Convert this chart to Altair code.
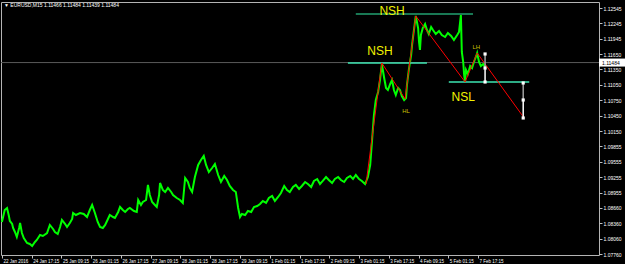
import altair as alt
import pandas as pd

# ---- price series (bar index on M15 timeline, close-ish price) ----
bars = [0, 2, 6, 11, 15, 17, 22, 24, 28, 32, 37, 39, 43, 47, 54, 60, 65, 71, 75, 82,
        88, 97, 103, 110, 114, 120, 125, 129, 136, 140, 146, 151, 153, 159, 168, 176, 183, 189, 194, 200,
        206, 211, 217, 222, 228, 232, 239, 243, 250, 254, 260, 265, 271, 275, 284, 290, 293, 299, 303, 310,
        314, 318, 323, 329, 333, 338, 340, 346, 351, 357, 364, 368, 376, 383, 389, 394, 400, 404, 409, 415,
        422, 428, 434, 439, 445, 452, 458, 465, 471, 478, 484, 490, 497, 503, 508, 512, 516, 523, 529, 536,
        542, 549, 555, 561, 568, 574, 581, 587, 594, 600, 607, 613, 619, 626, 632, 639, 645, 652, 658, 665,
        671, 678, 684, 690, 697, 703, 710, 716, 723, 729, 736, 742, 749, 755, 761, 768, 774, 781, 787, 792,
        796, 800, 804, 809, 813, 817, 822, 826, 830, 835, 839, 843, 847, 852, 856, 860, 865, 869, 871, 875,
        880, 882, 886, 890, 895, 897, 899, 901, 905, 910, 914, 918, 923, 927, 933, 940, 946, 953, 959, 966,
        972, 979, 983, 987, 989, 992, 994, 996, 998, 1002, 1007, 1011, 1015, 1020, 1022, 1026, 1030, 1035, 1039]
prices = [1.08383, 1.08461, 1.08616, 1.08655, 1.08500, 1.08403, 1.08344, 1.08267, 1.08189, 1.08091,
          1.08267, 1.08364, 1.08169, 1.08072, 1.07975, 1.07955, 1.07916, 1.07994, 1.08033, 1.08130,
          1.08111, 1.08169, 1.08325, 1.08247, 1.08189, 1.08150, 1.08286, 1.08422, 1.08344, 1.08286,
          1.08364, 1.08441, 1.08558, 1.08519, 1.08558, 1.08539, 1.08480, 1.08616, 1.08714, 1.08558,
          1.08383, 1.08286, 1.08267, 1.08325, 1.08441, 1.08519, 1.08480, 1.08461, 1.08578, 1.08675,
          1.08616, 1.08578, 1.08636, 1.08655, 1.08597, 1.08578, 1.08811, 1.08714, 1.08772, 1.08811,
          1.09103, 1.08908, 1.08772, 1.08714, 1.08675, 1.08908, 1.09142, 1.09006, 1.08967, 1.09045,
          1.08967, 1.08908, 1.08850, 1.08811, 1.08753, 1.09239, 1.09161, 1.09045, 1.08967, 1.09258,
          1.09492, 1.09589, 1.09667, 1.09492, 1.09355, 1.09433, 1.09511, 1.09297, 1.09161, 1.09278,
          1.09200, 1.09083, 1.09006, 1.08967, 1.08655, 1.08480, 1.08539, 1.08519, 1.08597, 1.08578,
          1.08675, 1.08694, 1.08733, 1.08792, 1.08753, 1.08850, 1.08889, 1.08792, 1.08869, 1.08947,
          1.09083, 1.09006, 1.08967, 1.09064, 1.09103, 1.09025, 1.09083, 1.09161, 1.09122, 1.09064,
          1.09181, 1.09219, 1.09122, 1.09181, 1.09258, 1.09200, 1.09142, 1.09219, 1.09258, 1.09200,
          1.09161, 1.09239, 1.09278, 1.09219, 1.09297, 1.09219, 1.09181, 1.09122, 1.09258, 1.09492,
          1.09978, 1.10464, 1.10756, 1.10911, 1.11145, 1.11456, 1.11184, 1.10989, 1.10950, 1.11067,
          1.11145, 1.10950, 1.10853, 1.10989, 1.10950, 1.10834, 1.10756, 1.10795, 1.11048, 1.11340,
          1.11631, 1.11826, 1.12117, 1.12390, 1.12156, 1.11884, 1.11729, 1.12020, 1.12156, 1.12234,
          1.12117, 1.12040, 1.12176, 1.12117, 1.12040, 1.12098, 1.12020, 1.11981, 1.12059, 1.12001,
          1.11923, 1.12020, 1.12079, 1.12409, 1.11690, 1.11495, 1.11242, 1.11106, 1.11340, 1.11262,
          1.11417, 1.11378, 1.11495, 1.11612, 1.11670, 1.11495, 1.11417, 1.11456, 1.11398]

# ---- zigzag swing points ----
zz_bars = [783, 817, 867, 890, 996, 1022, 1123]
zz_prices = [1.09122, 1.11476, 1.10776, 1.12390, 1.11106, 1.11670, 1.10406]

# ---- horizontal structure levels ----
lvl_start = [761, 744, 961]
lvl_end = [1013, 914, 1134]
lvl_price = [1.12429, 1.11476, 1.11106]
lvl_color = ["#22A070", "#3CE6B2", "#3CE6B2"]

# ---- measuring segments ----
meas_bar = [1039, 1039, 1121, 1121]
meas_from = [1.11651, 1.11378, 1.11087, 1.10756]
meas_to = [1.11378, 1.11106, 1.10756, 1.10406]
meas_color = ["#A0A0A0", "#FFFFFF", "#A0A0A0", "#FFFFFF"]
knot_bar = [1039, 1039, 1039, 1121, 1121, 1121]
knot_price = [1.11651, 1.11378, 1.11106, 1.11087, 1.10756, 1.10406]

# ---- labels ----
big_text = ["NSH", "NSH", "NSL"]
big_bar = [839, 813, 992]
big_price = [1.12487, 1.11709, 1.10814]
small_text = ["HL", "LH"]
small_bar = [869, 1020]
small_price = [1.10542, 1.11787]

current_price = 1.11484
header = "\u25bc EURUSD,M15  1.11466 1.11484 1.11439 1.11484"

x_ticks = [0, 64, 128, 192, 256, 320, 384, 448, 512, 576, 640, 704, 768, 832, 896, 960, 1024]
x_labels = ["22 Jan 2016", "24 Jan 17:15", "25 Jan 09:15", "26 Jan 01:15", "26 Jan 17:15",
            "27 Jan 09:15", "28 Jan 01:15", "28 Jan 17:15", "29 Jan 09:15", "1 Feb 01:15",
            "1 Feb 17:15", "2 Feb 09:15", "3 Feb 01:15", "3 Feb 17:15", "4 Feb 09:15",
            "5 Feb 01:15", "7 Feb 17:15"]
y_ticks = [1.12545, 1.12245, 1.11945, 1.11650, 1.11350, 1.11050, 1.10750, 1.10450, 1.10150,
           1.09855, 1.09555, 1.09255, 1.08955, 1.08660, 1.08360, 1.08060, 1.07760]

FONT = "Liberation Sans"
label_arr = "[" + ",".join("'" + s + "'" for s in x_labels) + "]"

xs = alt.Scale(domain=[-2, 1284], nice=False, zero=False)
ys = alt.Scale(domain=[1.07741, 1.12662], nice=False, zero=False)

x_axis = alt.Axis(values=x_ticks, labelExpr=label_arr + "[round(datum.value/64)]",
                  labelAlign="left", labelFontSize=4.5, labelFont=FONT, labelColor="#FFFFFF",
                  tickSize=3, tickColor="#C0C0C0", labelPadding=0, labelOffset=1,
                  domain=False, grid=False, title=None, labelFlush=False, labelOverlap=False,
                  labelBound=False)
y_axis = alt.Axis(orient="right", values=y_ticks, format=".5f", labelFontSize=5, labelFont=FONT,
                  labelColor="#FFFFFF", tickSize=3, tickColor="#C0C0C0", labelPadding=1,
                  domain=False, grid=False, title=None, labelFlush=False, labelOverlap=False,
                  labelBound=False)

X = lambda f: alt.X(f, scale=xs, axis=x_axis)
Y = lambda f: alt.Y(f, scale=ys, axis=y_axis)

series = pd.DataFrame({"bar": bars, "price": prices})
zz = pd.DataFrame({"bar": zz_bars, "price": zz_prices})
lv = pd.DataFrame({"b1": lvl_start, "b2": lvl_end, "price": lvl_price, "c": lvl_color})
ms = pd.DataFrame({"bar": meas_bar, "p1": meas_from, "p2": meas_to, "c": meas_color})
kn = pd.DataFrame({"bar": knot_bar, "price": knot_price})
bt = pd.DataFrame({"bar": big_bar, "price": big_price, "t": big_text})
st = pd.DataFrame({"bar": small_bar, "price": small_price, "t": small_text})
cp = pd.DataFrame({"price": [current_price], "t": [f"{current_price:.5f}"]})
hd = pd.DataFrame({"t": [header]})

cur_line = alt.Chart(cp).mark_rule(color="#5A5A5A", strokeWidth=1).encode(y=Y("price:Q"))

line = alt.Chart(series).mark_line(color="#00FF00", strokeWidth=2).encode(
    x=X("bar:Q"), y=Y("price:Q"))

levels = alt.Chart(lv).mark_rule(strokeWidth=1.6).encode(
    x=X("b1:Q"), x2="b2:Q", y=Y("price:Q"),
    color=alt.Color("c:N", scale=None))

zig = alt.Chart(zz).mark_line(color="#FF0000", strokeWidth=1).encode(
    x=X("bar:Q"), y=Y("price:Q"))

meas = alt.Chart(ms).mark_rule(strokeWidth=1.5).encode(
    x=X("bar:Q"), y=Y("p1:Q"), y2="p2:Q",
    color=alt.Color("c:N", scale=None))

knots = alt.Chart(kn).mark_square(color="#FFFFFF", size=10, opacity=1).encode(
    x=X("bar:Q"), y=Y("price:Q"))

big = alt.Chart(bt).mark_text(font=FONT, fontSize=12, color="#F2F200", baseline="middle").encode(
    x=X("bar:Q"), y=Y("price:Q"), text="t:N")

small = alt.Chart(st).mark_text(font=FONT, fontSize=6, color="#C8C000", baseline="middle").encode(
    x=X("bar:Q"), y=Y("price:Q"), text="t:N")

box = alt.Chart(cp).mark_rect(color="#FFFFFF", yOffset=-4, y2Offset=4).encode(
    x=alt.value(598), x2=alt.value(625),
    y=Y("price:Q"), y2="price:Q")
box_text = alt.Chart(cp).mark_text(font=FONT, fontSize=5, color="#000000", align="left",
                                    baseline="middle").encode(
    x=alt.value(601), y=Y("price:Q"), text="t:N")

head = alt.Chart(hd).mark_text(font=FONT, fontSize=5, color="#FFFFFF", align="left",
                               baseline="middle").encode(
    x=alt.value(3), y=alt.value(3), text="t:N")

chart = alt.layer(cur_line, line, levels, zig, meas, knots, big, small, box, box_text, head).properties(
    width=598, height=253,
    autosize=alt.AutoSizeParams(type="none"),
    padding={"left": 1, "top": 2, "right": 26, "bottom": 9},
    background="#000000",
).configure_view(stroke="#B4B4B4", strokeWidth=1
).configure_axis(labelOverlap=False, labelBound=False, labelFlush=False)

chart.save("out.html", embed_options={"renderer": "svg", "actions": False})
